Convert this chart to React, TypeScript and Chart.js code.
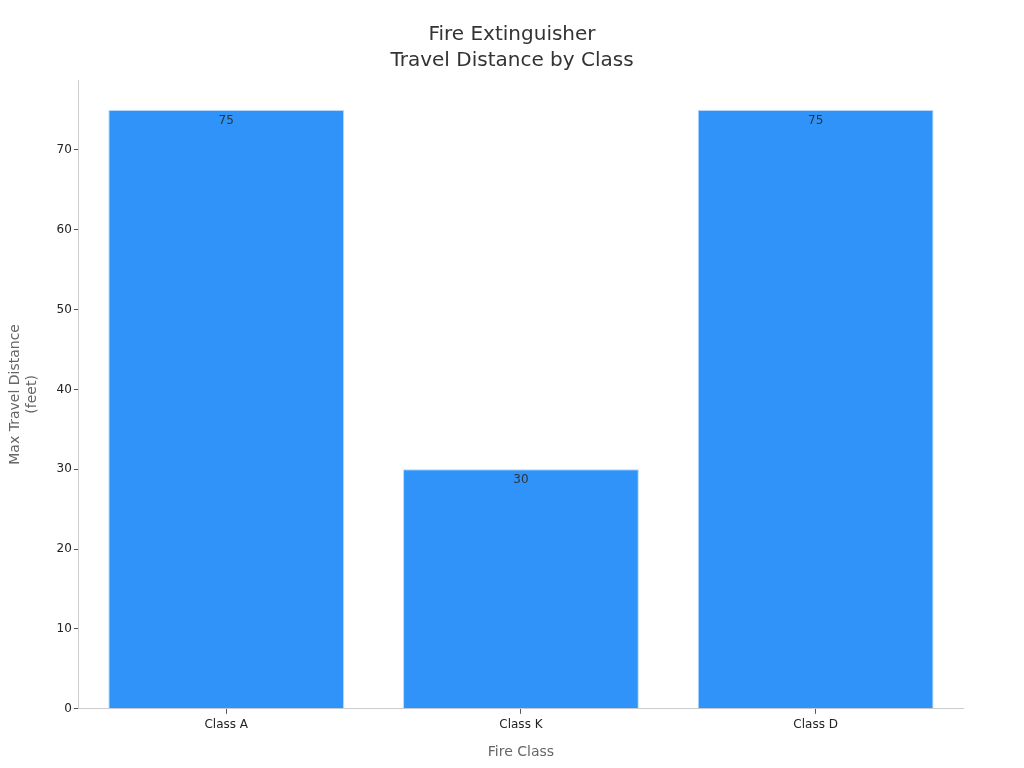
import { useEffect, useRef } from 'react';
import { Chart, registerables } from 'chart.js';

Chart.register(...registerables);

const categories = ['Class A', 'Class K', 'Class D'];
const travelDistance = [75, 30, 75];
const yTicks = [0, 10, 20, 30, 40, 50, 60, 70];
const titleLines = ['Fire Extinguisher', 'Travel Distance by Class'];

const FONT = "'DejaVu Sans', sans-serif";

// draws the value just inside the top of each bar
const valueLabels = {
  id: 'valueLabels',
  afterDatasetsDraw(chart: Chart) {
    const { ctx } = chart;
    const meta = chart.getDatasetMeta(0);
    ctx.save();
    ctx.font = `12px ${FONT}`;
    ctx.fillStyle = '#333';
    ctx.textAlign = 'center';
    ctx.textBaseline = 'top';
    meta.data.forEach((bar: any, i: number) => {
      ctx.fillText(String(travelDistance[i]), bar.x, bar.y + 5);
    });
    ctx.restore();
  },
};

// title centred on the whole canvas, not on the padded box
const centredTitle = {
  id: 'centredTitle',
  afterDraw(chart: Chart) {
    const { ctx, width } = chart;
    ctx.save();
    ctx.font = `20px ${FONT}`;
    ctx.fillStyle = '#333';
    ctx.textAlign = 'center';
    ctx.textBaseline = 'middle';
    titleLines.forEach((line, i) => ctx.fillText(line, width / 2, 35 + i * 26));
    ctx.restore();
  },
};

const App = () => {
  const canvasRef = useRef<HTMLCanvasElement | null>(null);
  const chartRef = useRef<Chart | null>(null);

  useEffect(() => {
    if (!canvasRef.current) return;
    chartRef.current?.destroy();

    chartRef.current = new Chart(canvasRef.current, {
      type: 'bar',
      data: {
        labels: categories,
        datasets: [
          {
            label: 'Max Travel Distance (feet)',
            data: travelDistance,
            backgroundColor: '#2f93f9',
            borderColor: '#b5d8fb',
            borderWidth: 1,
            barPercentage: 0.8,
            categoryPercentage: 1,
          },
        ],
      },
      options: {
        animation: false,
        responsive: true,
        maintainAspectRatio: false,
        layout: { padding: { left: 3, right: 61, top: 80, bottom: 3 } },
        plugins: {
          legend: { display: false },
          tooltip: { enabled: false },
          title: { display: false },
        },
        scales: {
          x: {
            grid: { display: true, drawOnChartArea: false, offset: false, color: '#555', tickLength: 5 },
            border: { color: '#ccc' },
            ticks: { color: '#222', font: { family: FONT, size: 12 }, padding: 4 },
            title: {
              display: true,
              text: 'Fire Class',
              color: '#666',
              font: { family: FONT, size: 14 },
              padding: { top: 8 },
            },
          },
          y: {
            min: 0,
            max: 78.75,
            afterBuildTicks: (axis: any) => {
              axis.ticks = yTicks.map((v) => ({ value: v }));
            },
            grid: { display: true, drawOnChartArea: false, color: '#555', tickLength: 5 },
            border: { color: '#ccc' },
            ticks: { color: '#222', font: { family: FONT, size: 12 }, padding: 2 },
            title: {
              display: true,
              text: ['Max Travel Distance', '(feet)'],
              color: '#666',
              font: { family: FONT, size: 14 },
              padding: { bottom: 14 },
            },
          },
        },
      },
      plugins: [valueLabels, centredTitle],
    });

    return () => chartRef.current?.destroy();
  }, []);

  return (
    <div style={{ position: 'absolute', left: 0, top: 0, width: 1024, height: 768 }}>
      <canvas ref={canvasRef} />
    </div>
  );
};

export default App;
